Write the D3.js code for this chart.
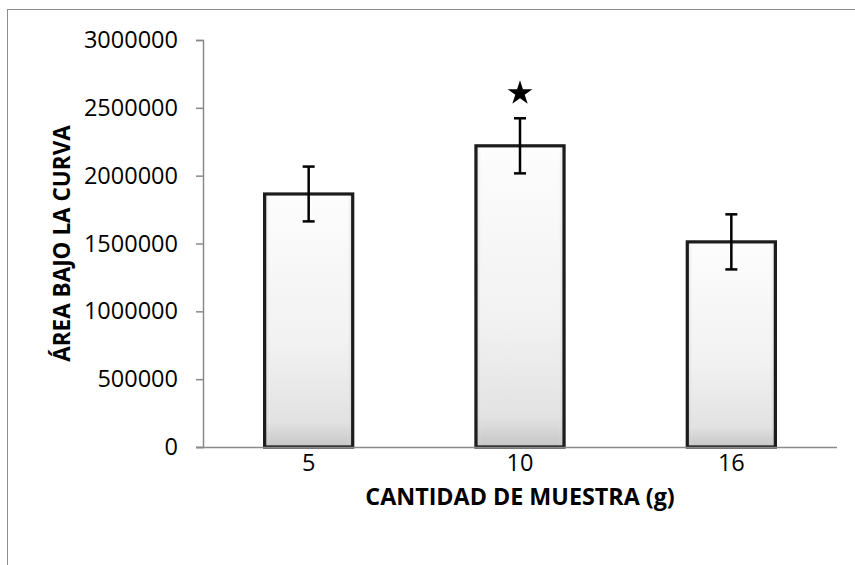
<!DOCTYPE html>
<html>
<head>
<meta charset="utf-8">
<script src="https://cdn.jsdelivr.net/npm/d3@7"></script>
<style>
  html, body { margin: 0; padding: 0; background: #ffffff; }
  svg { display: block; }
  text { font-family: "Open Sans", "Noto Sans", sans-serif; fill: #000; }
</style>
</head>
<body>
<svg id="chart" width="855" height="565"></svg>
<script>
// Sample amount (g) and mean area under the curve, with error half-widths
const categories = ["5", "10", "16"];
const areaValues = [1865000, 2220000, 1512000];
const areaErrors = [202000, 203000, 203000];
const significant = [false, true, false];
const yTicks = [0, 500000, 1000000, 1500000, 2000000, 2500000, 3000000];
const yTitle = "ÁREA BAJO LA CURVA";
const xTitle = "CANTIDAD DE MUESTRA (g)";

const svg = d3.select("#chart");
const W = 855, H = 565;
const plot = { left: 203, right: 837, top: 40, bottom: 447 };

// outer frame
svg.append("rect")
  .attr("x", 7.5).attr("y", 9.5)
  .attr("width", W).attr("height", H)
  .attr("fill", "none").attr("stroke", "#8c8c8c").attr("stroke-width", 1);

const defs = svg.append("defs");
const grad = defs.append("linearGradient")
  .attr("id", "barFill").attr("x1", 0).attr("y1", 0).attr("x2", 0).attr("y2", 1);
grad.append("stop").attr("offset", "0%").attr("stop-color", "#fdfdfd");
grad.append("stop").attr("offset", "60%").attr("stop-color", "#f1f1f1");
grad.append("stop").attr("offset", "90%").attr("stop-color", "#e2e2e2");
grad.append("stop").attr("offset", "100%").attr("stop-color", "#c6c6c6");

const side = defs.append("linearGradient")
  .attr("id", "barSide").attr("x1", 0).attr("y1", 0).attr("x2", 1).attr("y2", 0);
side.append("stop").attr("offset", "0%").attr("stop-color", "#9a9a9a").attr("stop-opacity", 0.4);
side.append("stop").attr("offset", "7%").attr("stop-color", "#ffffff").attr("stop-opacity", 0);
side.append("stop").attr("offset", "93%").attr("stop-color", "#ffffff").attr("stop-opacity", 0);
side.append("stop").attr("offset", "100%").attr("stop-color", "#9a9a9a").attr("stop-opacity", 0.4);

defs.append("filter").attr("id", "soft")
  .append("feGaussianBlur").attr("stdDeviation", 0.6);

const x = d3.scaleBand()
  .domain(categories)
  .range([plot.left, plot.right])
  .paddingInner(0.583)
  .paddingOuter(0.2915);

const y = d3.scaleLinear()
  .domain([0, 3000000])
  .range([plot.bottom, plot.top]);

const data = categories.map((c, i) => ({
  cat: c, value: areaValues[i], err: areaErrors[i], sig: significant[i]
}));

// bars
const bars = svg.append("g");
bars.selectAll("rect.fill")
  .data(data).join("rect")
  .attr("class", "fill")
  .attr("x", d => x(d.cat))
  .attr("y", d => y(d.value))
  .attr("width", x.bandwidth())
  .attr("height", d => y(0) - y(d.value))
  .attr("fill", "url(#barFill)");
bars.selectAll("rect.side")
  .data(data).join("rect")
  .attr("class", "side")
  .attr("x", d => x(d.cat))
  .attr("y", d => y(d.value))
  .attr("width", x.bandwidth())
  .attr("height", d => y(0) - y(d.value))
  .attr("fill", "url(#barSide)");
bars.selectAll("rect.edge")
  .data(data).join("rect")
  .attr("class", "edge")
  .attr("x", d => x(d.cat))
  .attr("y", d => y(d.value))
  .attr("width", x.bandwidth())
  .attr("height", d => y(0) - y(d.value))
  .attr("fill", "none")
  .attr("stroke", "#1a1a1a")
  .attr("stroke-width", 3.2)
  .attr("filter", "url(#soft)");

// axes
const yAxis = svg.append("g")
  .attr("transform", `translate(${plot.left},0)`)
  .call(d3.axisLeft(y).tickValues(yTicks).tickSize(7).tickPadding(18)
    .tickFormat(d3.format("d")));
yAxis.select(".domain").attr("stroke", "#8a8a8a").attr("stroke-width", 1.5);
yAxis.selectAll(".tick line").attr("stroke", "#8a8a8a").attr("stroke-width", 1.5);
yAxis.selectAll(".tick text")
  .attr("font-size", 23.5).attr("font-family", "Open Sans").attr("fill", "#000");

const xAxis = svg.append("g")
  .attr("transform", `translate(0,${plot.bottom})`)
  .call(d3.axisBottom(x).tickSize(0).tickPadding(7));
xAxis.select(".domain")
  .attr("d", `M${plot.left - 7},0.5H${plot.right}`)
  .attr("stroke", "#8a8a8a").attr("stroke-width", 1.5);
xAxis.selectAll(".tick text")
  .attr("font-size", 23.5).attr("font-family", "Open Sans").attr("fill", "#000");

// error bars
const eb = svg.append("g").attr("stroke", "#000").attr("stroke-width", 2.5);
data.forEach(d => {
  const cx = x(d.cat) + x.bandwidth() / 2;
  const top = y(d.value + d.err), bot = y(d.value - d.err);
  eb.append("line").attr("x1", cx).attr("x2", cx).attr("y1", top).attr("y2", bot);
  eb.append("line").attr("x1", cx - 6).attr("x2", cx + 6).attr("y1", top).attr("y2", top);
  eb.append("line").attr("x1", cx - 6).attr("x2", cx + 6).attr("y1", bot).attr("y2", bot);
});

// significance marker
svg.append("g").selectAll("path")
  .data(data.filter(d => d.sig)).join("path")
  .attr("d", d3.symbol(d3.symbolStar, 190))
  .attr("transform", d => `translate(${x(d.cat) + x.bandwidth() / 2},${y(d.value + d.err) - 25})`)
  .attr("fill", "#000");

// axis titles
svg.append("text")
  .attr("x", (plot.left + plot.right) / 2).attr("y", 505)
  .attr("text-anchor", "middle")
  .attr("font-size", 23.3).attr("font-weight", "bold")
  .text(xTitle);

svg.append("text")
  .attr("transform", `translate(70,${(plot.top + plot.bottom) / 2}) rotate(-90)`)
  .attr("text-anchor", "middle")
  .attr("font-size", 22.5).attr("font-weight", "bold")
  .text(yTitle);
</script>
</body>
</html>
